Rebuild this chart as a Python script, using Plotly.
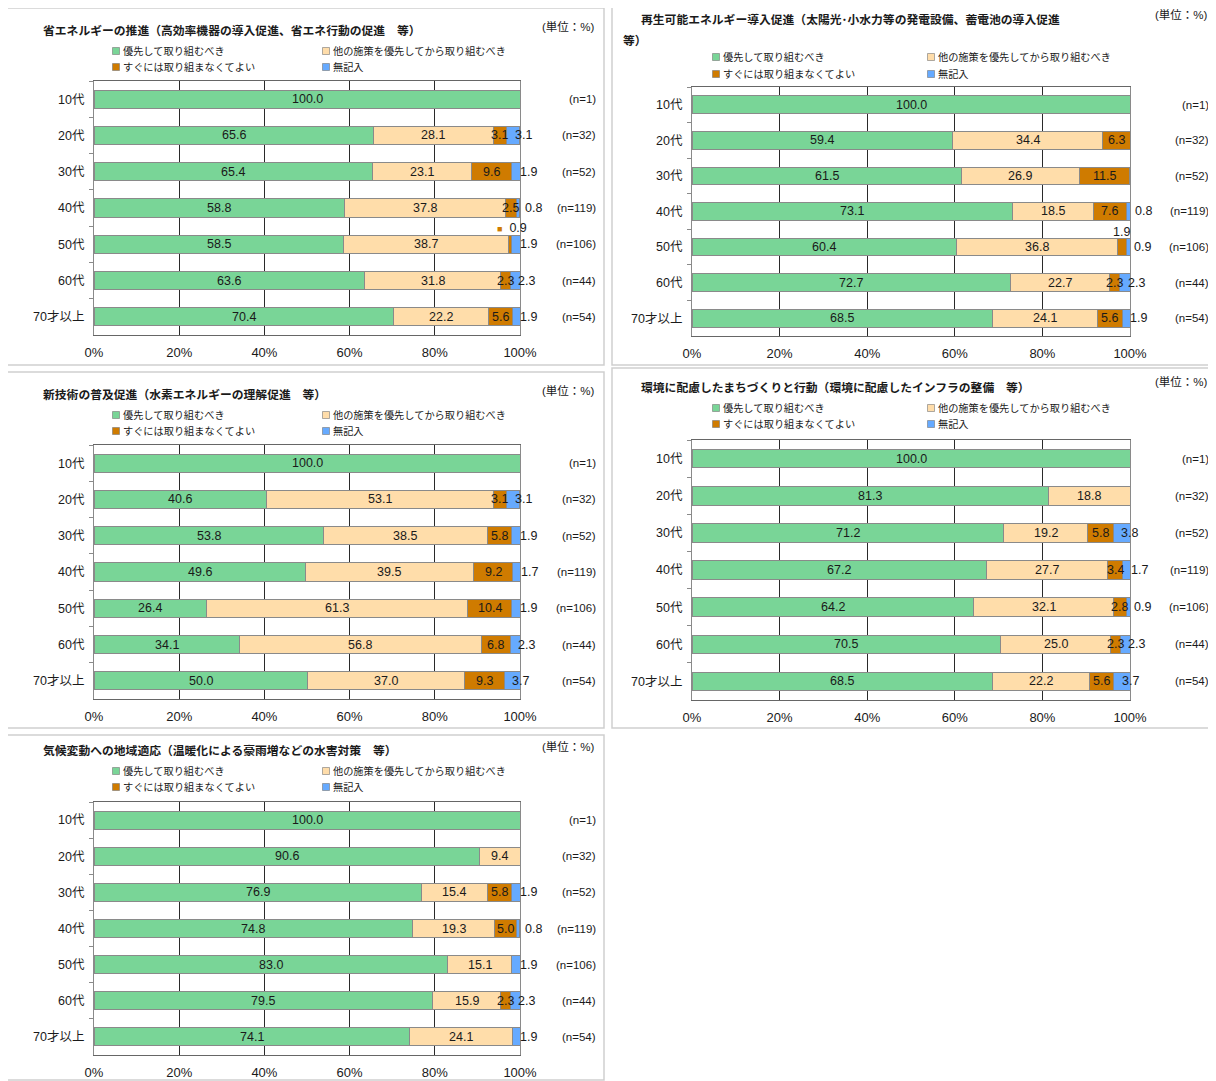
import plotly.graph_objects as go

# ---------------- data ----------------
categories = ["10代", "20代", "30代", "40代", "50代", "60代", "70才以上"]
n_labels = ["(n=1)", "(n=32)", "(n=52)", "(n=119)", "(n=106)", "(n=44)", "(n=54)"]
series_names = ["優先して取り組むべき", "他の施策を優先してから取り組むべき",
                "すぐには取り組まなくてよい", "無記入"]

titles = [
    "省エネルギーの推進（高効率機器の導入促進、省エネ行動の促進　等）",
    "再生可能エネルギー導入促進（太陽光･小水力等の発電設備、蓄電池の導入促進",
    "新技術の普及促進（水素エネルギーの理解促進　等）",
    "環境に配慮したまちづくりと行動（環境に配慮したインフラの整備　等）",
    "気候変動への地域適応（温暖化による豪雨増などの水害対策　等）",
]
title2_cont = "等）"
unit_label = "(単位：%)"

# Panel 1: 省エネルギーの推進
p1_prior = [100.0, 65.6, 65.4, 58.8, 58.5, 63.6, 70.4]
p1_other = [0, 28.1, 23.1, 37.8, 38.7, 31.8, 22.2]
p1_later = [0, 3.1, 9.6, 2.5, 0.9, 2.3, 5.6]
p1_blank = [0, 3.1, 1.9, 0.8, 1.9, 2.3, 1.9]

# Panel 2: 再生可能エネルギー導入促進
p2_prior = [100.0, 59.4, 61.5, 73.1, 60.4, 72.7, 68.5]
p2_other = [0, 34.4, 26.9, 18.5, 36.8, 22.7, 24.1]
p2_later = [0, 6.3, 11.5, 7.6, 1.9, 2.3, 5.6]
p2_blank = [0, 0, 0, 0.8, 0.9, 2.3, 1.9]

# Panel 3: 新技術の普及促進
p3_prior = [100.0, 40.6, 53.8, 49.6, 26.4, 34.1, 50.0]
p3_other = [0, 53.1, 38.5, 39.5, 61.3, 56.8, 37.0]
p3_later = [0, 3.1, 5.8, 9.2, 10.4, 6.8, 9.3]
p3_blank = [0, 3.1, 1.9, 1.7, 1.9, 2.3, 3.7]

# Panel 4: 環境に配慮したまちづくりと行動
p4_prior = [100.0, 81.3, 71.2, 67.2, 64.2, 70.5, 68.5]
p4_other = [0, 18.8, 19.2, 27.7, 32.1, 25.0, 22.2]
p4_later = [0, 0, 5.8, 3.4, 2.8, 2.3, 5.6]
p4_blank = [0, 0, 3.8, 1.7, 0.9, 2.3, 3.7]

# Panel 5: 気候変動への地域適応
p5_prior = [100.0, 90.6, 76.9, 74.8, 83.0, 79.5, 74.1]
p5_other = [0, 9.4, 15.4, 19.3, 15.1, 15.9, 24.1]
p5_later = [0, 0, 5.8, 5.0, 0, 2.3, 0]
p5_blank = [0, 0, 1.9, 0.8, 1.9, 2.3, 1.9]

panels_data = [
    (p1_prior, p1_other, p1_later, p1_blank),
    (p2_prior, p2_other, p2_later, p2_blank),
    (p3_prior, p3_other, p3_later, p3_blank),
    (p4_prior, p4_other, p4_later, p4_blank),
    (p5_prior, p5_other, p5_later, p5_blank),
]

# ---------------- style / layout ----------------
W, H = 1216, 1081
OX, OY = 8, 8  # page offset compensation
FONT = "Liberation Sans, Arial, Noto Sans CJK JP, sans-serif"
TXT = "#1a1a1a"
colors = ["#79D597", "#FFDDAA", "#CF7B00", "#66AAFF"]
edge = "#8a8a8a"

geo = [
    dict(box=(7, 8, 604, 365), plot=(94, 520, 81, 335), title=[(41, 31)], unit=(597, 26),
         leg_x=(116, 326), leg_y=(51, 67), n_x=598, key_small=True),
    dict(box=(612, 1, 1214, 365), plot=(692, 1130, 87, 336), title=[(639, 20), (621, 41)], unit=(1210, 14),
         leg_x=(716, 931), leg_y=(57, 74), n_x=1211, key_small=False),
    dict(box=(7, 372, 604, 728), plot=(94, 520, 445, 699), title=[(41, 395)], unit=(597, 390),
         leg_x=(116, 326), leg_y=(415, 431), n_x=598, key_small=False),
    dict(box=(612, 368, 1214, 728), plot=(692, 1130, 440, 700), title=[(639, 388)], unit=(1210, 382),
         leg_x=(716, 931), leg_y=(408, 424), n_x=1211, key_small=False),
    dict(box=(7, 735, 604, 1080), plot=(94, 520, 802, 1055), title=[(41, 751)], unit=(597, 746),
         leg_x=(116, 326), leg_y=(771, 787), n_x=598, key_small=False),
]


def fx(px):
    return (px - OX) / W


def fy(py):
    return 1 - (py - OY) / H


fig = go.Figure()
annotations = []
shapes = []
layout_axes = {}

for k, (vals, g) in enumerate(zip(panels_data, geo), start=1):
    sfx = "" if k == 1 else str(k)
    xa, ya = "x" + sfx, "y" + sfx
    x0, x1, top, bot = g["plot"]

    # panel frame
    bx0, by0, bx1, by1 = g["box"]
    shapes.append(dict(type="rect", xref="paper", yref="paper", x0=fx(bx0), x1=fx(bx1),
                       y0=fy(by1), y1=fy(by0), line=dict(color="#cfcfcf", width=1.5),
                       fillcolor="white", layer="below"))

    for si, series in enumerate(vals):
        fig.add_trace(go.Bar(
            x=[v if v > 0 else None for v in series], y=categories, orientation="h",
            name=series_names[si], marker=dict(color=colors[si], line=dict(color=edge, width=1)),
            xaxis=xa, yaxis=ya, showlegend=False, hoverinfo="x+y+name",
        ))

    # value labels
    for ci, cat in enumerate(categories):
        left = 0.0
        for si, series in enumerate(vals):
            v = series[ci]
            if v > 0:
                txt = f"{v:.1f}"
                center = left + v / 2
                if si == 3:
                    annotations.append(dict(x=100 - v, y=cat, xref=xa, yref=ya, text=txt,
                                            xanchor="left", xshift=6, showarrow=False,
                                            font=dict(size=12.5, color=TXT, family=FONT)))
                elif si == 2 and v < 2:
                    t = txt
                    if g["key_small"]:
                        t = f"<span style='color:{colors[2]};font-size:9px'>■</span>  {txt}"
                    annotations.append(dict(x=center, y=cat, xref=xa, yref=ya, text=t,
                                            xshift=2 if g["key_small"] else 0,
                                            yshift=16 if g["key_small"] else 15,
                                            showarrow=False,
                                            font=dict(size=12.5, color=TXT, family=FONT)))
                else:
                    annotations.append(dict(x=center, y=cat, xref=xa, yref=ya, text=txt,
                                            showarrow=False,
                                            font=dict(size=12.5, color=TXT, family=FONT)))
            left += v
        # n labels
        annotations.append(dict(x=fx(g["n_x"]), y=cat, xref="paper", yref=ya, text=n_labels[ci],
                                xanchor="right", showarrow=False,
                                font=dict(size=11.5, color=TXT, family=FONT)))

    # titles
    tlines = [titles[k - 1]] if k != 2 else [titles[1], title2_cont]
    for (tx, ty), tt in zip(g["title"], tlines):
        annotations.append(dict(x=fx(tx), y=fy(ty), xref="paper", yref="paper", text=f"<b>{tt}</b>",
                                xanchor="left", yanchor="middle", showarrow=False,
                                font=dict(size=11.8, color=TXT, family=FONT)))
    ux, uy = g["unit"]
    annotations.append(dict(x=fx(ux), y=fy(uy), xref="paper", yref="paper", text=unit_label,
                            xanchor="right", yanchor="middle", showarrow=False,
                            font=dict(size=11.5, color=TXT, family=FONT)))

    # legend (2 x 2)
    for si, name in enumerate(series_names):
        lx = g["leg_x"][si % 2]
        ly = g["leg_y"][si // 2]
        shapes.append(dict(type="rect", xref="paper", yref="paper",
                           x0=fx(lx - 3.5), x1=fx(lx + 3.5), y0=fy(ly + 3.5), y1=fy(ly - 3.5),
                           fillcolor=colors[si], line=dict(color="#777", width=0.6)))
        annotations.append(dict(x=fx(lx + 5), y=fy(ly), xref="paper", yref="paper", text=name,
                                xanchor="left", yanchor="middle", showarrow=False,
                                font=dict(size=10.2, color=TXT, family=FONT)))

    layout_axes["xaxis" + sfx] = dict(
        domain=[fx(x0), fx(x1)], anchor=ya, range=[0, 100], tickmode="array",
        tickvals=[0, 20, 40, 60, 80, 100], ticktext=["0%", "20%", "40%", "60%", "80%", "100%"],
        showgrid=True, gridcolor="#2a2a2a", gridwidth=1, zeroline=False,
        showline=True, mirror=True, linecolor="#666", linewidth=1, ticks="",
        tickfont=dict(size=13, color=TXT, family=FONT), ticklabelstandoff=5, fixedrange=True,
        automargin=False,
    )
    layout_axes["yaxis" + sfx] = dict(
        domain=[fy(bot), fy(top)], anchor=xa, autorange="reversed", type="category",
        categoryorder="array", categoryarray=categories,
        showline=True, mirror=True, linecolor="#8a8a8a", linewidth=1,
        ticks="outside", tickson="boundaries", ticklen=4, tickcolor="#8a8a8a",
        showgrid=False, tickfont=dict(size=12.5, color=TXT, family=FONT), ticklabelstandoff=6,
        fixedrange=True, automargin=False,
    )

fig.update_layout(
    width=W, height=H, margin=dict(l=0, r=0, t=0, b=0, autoexpand=False),
    paper_bgcolor="white", plot_bgcolor="white",
    barmode="stack", bargap=0.5, showlegend=False,
    annotations=annotations, shapes=shapes,
    font=dict(family=FONT, color=TXT),
    **layout_axes,
)

fig.write_html("out.html")
